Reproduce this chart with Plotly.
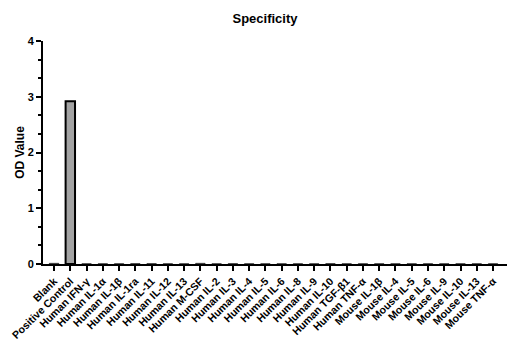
import plotly.graph_objects as go

categories = ["Blank", "Positive Control", "Human IFN-γ", "Human IL-1α", "Human IL-1β",
              "Human IL-1ra", "Human IL-11", "Human IL-12", "Human IL-13", "Human M-CSF",
              "Human IL-2", "Human IL-3", "Human IL-4", "Human IL-5", "Human IL-6",
              "Human IL-8", "Human IL-9", "Human IL-10", "Human TGF-β1", "Human TNF-α",
              "Mouse IL-1β", "Mouse IL-4", "Mouse IL-5", "Mouse IL-6", "Mouse IL-9",
              "Mouse IL-10", "Mouse IL-13", "Mouse TNF-α"]
od_values = [0.012, 2.92, 0.004, 0.004, 0.004, 0.006, 0.006, 0.004, 0.004, 0.012,
             0.004, 0.006, 0.004, 0.004, 0.004, 0.004, 0.004, 0.006, 0.004, 0.004,
             0.004, 0.004, 0.004, 0.004, 0.004, 0.004, 0.004, 0.004]
y_ticks = [0, 1, 2, 3, 4]

FONT = "Liberation Sans, Arial, sans-serif"

outline_widths = [2 if v > 0.1 else 0.6 for v in od_values]

fig = go.Figure(go.Bar(
    x=list(range(len(categories))), y=od_values,
    width=0.58,
    marker=dict(color="#A3A3A3", line=dict(color="black", width=outline_widths)),
))

fig.update_layout(
    width=530, height=350,
    margin=dict(l=43, r=23, t=41, b=86),
    plot_bgcolor="white", paper_bgcolor="white",
    showlegend=False,
    title=dict(text="<b>Specificity</b>", x=0.5, xanchor="center", y=0.947, yanchor="middle",
               font=dict(family=FONT, size=13, color="black")),
    font=dict(family=FONT, color="black"),
)
fig.update_xaxes(
    range=[-0.68, 27.86], automargin=False,
    tickmode="array", tickvals=list(range(len(categories))),
    ticktext=["<b>%s</b>" % c for c in categories],
    tickangle=-45, tickfont=dict(family=FONT, size=10.6, color="black"),
    showline=True, linecolor="black", linewidth=2,
    ticks="outside", ticklen=5, tickwidth=2, tickcolor="black",
    showgrid=False, zeroline=False,
)
fig.update_yaxes(
    range=[0, 4], automargin=False,
    tickmode="array", tickvals=y_ticks, ticktext=["<b>%d</b>" % v for v in y_ticks],
    tickfont=dict(family=FONT, size=11, color="black"),
    showline=True, linecolor="black", linewidth=2,
    ticks="outside", ticklen=5, tickwidth=2, tickcolor="black",
    minor=dict(dtick=1/3, tick0=0, ticks="outside", ticklen=3, tickwidth=1.5, tickcolor="black"),
    showgrid=False, zeroline=False,
    title=dict(text="<b>OD Value</b>", font=dict(family=FONT, size=12, color="black"), standoff=0),
)

fig.write_html("out.html")
